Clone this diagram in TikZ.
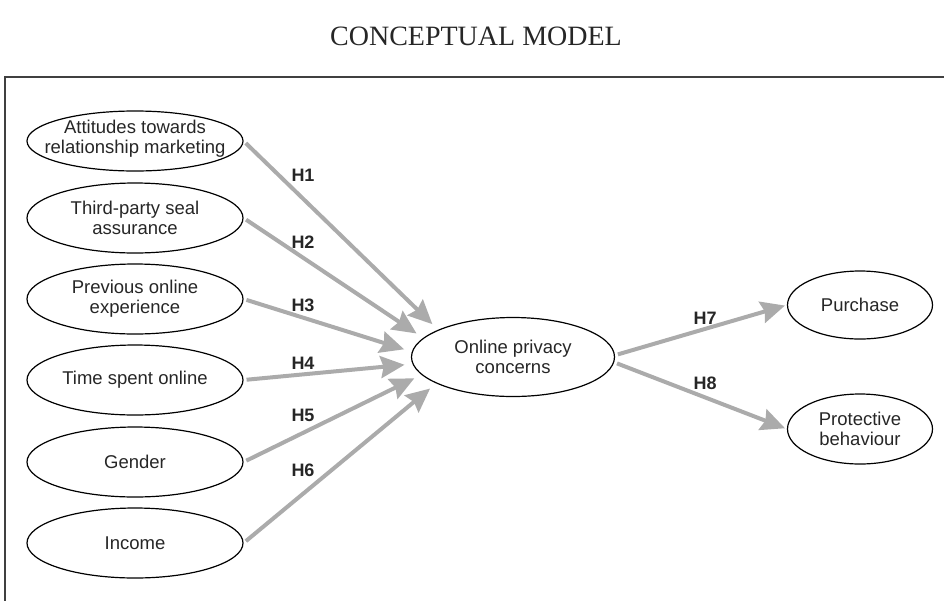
\documentclass[tikz,border=0pt]{standalone}
\usepackage{fontspec}
\setmainfont{Liberation Serif}
\setsansfont{Liberation Sans}
\usetikzlibrary{shapes.geometric,arrows.meta}

\begin{document}
\begin{tikzpicture}[x=1pt,y=-1pt,>={Stealth[length=24pt,width=22pt,inset=3pt]},
			var/.style={ellipse,draw,line width=1.2pt,minimum width=216pt,minimum height=70pt,inner sep=0pt},
			outcome/.style={var,minimum width=145pt,minimum height=68pt},
			vtext/.style={align=center,text=black!85,font=\sffamily\fontsize{18.5}{20}\selectfont},
			hyp/.style={font=\sffamily\bfseries\fontsize{18}{20}\selectfont,text=black!85},
			link/.style={->,draw=black!33,fill=black!33,line width=4pt,shorten <=3pt,shorten >=8pt}
			]
		\useasboundingbox (0,0) rectangle (944,600);
		\clip (0,0) rectangle (944,600);
		%\draw[step=50, color=gray] (0,0) grid (944,600);
		\node [font=\fontsize{28}{30}\selectfont, text=black!85] (title) at (476,36) {CONCEPTUAL MODEL};
		\draw [black!75, line width=1.6pt] (5,77) rectangle (960,620);

		\node [var, minimum height=60pt, label={[vtext,yshift=2pt]center:Attitudes towards\\relationship marketing}] (att) at (135,141) {};
		\node [var, label={[vtext]center:Third-party seal\\assurance}] (seal) at (135,218) {};
		\node [var, label={[vtext]center:Previous online\\experience}] (prev) at (135,299) {};
		\node [var, label={[vtext]center:Time spent online}] (time) at (135,380) {};
		\node [var, label={[vtext]center:Gender}] (gender) at (135,462) {};
		\node [var, label={[vtext]center:Income}] (income) at (135,543) {};

		\node [var, minimum width=203pt, minimum height=79pt, label={[vtext]center:Online privacy\\concerns}] (opc) at (513,357) {};

		\node [outcome, label={[vtext]center:Purchase}] (purch) at (860,305) {};
		\node [outcome, minimum height=70pt, label={[vtext]center:Protective\\behaviour}] (prot) at (860,429) {};

		\draw [link] (att.east) -- (opc.160);
		\draw [link] (seal.east) -- (opc.168);
		\draw [link] (prev.east) -- (opc.177);
		\draw [link] (time.east) -- (opc.184);
		\draw [link] (gender.east) -- (opc.191);
		\draw [link] (income.east) -- (opc.199);
		\draw [link, shorten >=2pt] (opc.1) -- (purch.west);
		\draw [link, shorten >=2pt] (opc.-3) -- (prot.west);

		\node [hyp] (h1) at (303,175) {H1};
		\node [hyp] (h2) at (303,242) {H2};
		\node [hyp] (h3) at (303,305) {H3};
		\node [hyp] (h4) at (303,363) {H4};
		\node [hyp] (h5) at (303,415) {H5};
		\node [hyp] (h6) at (303,470) {H6};
		\node [hyp] (h7) at (705,318) {H7};
		\node [hyp] (h8) at (705,383) {H8};
\end{tikzpicture}
\end{document}
